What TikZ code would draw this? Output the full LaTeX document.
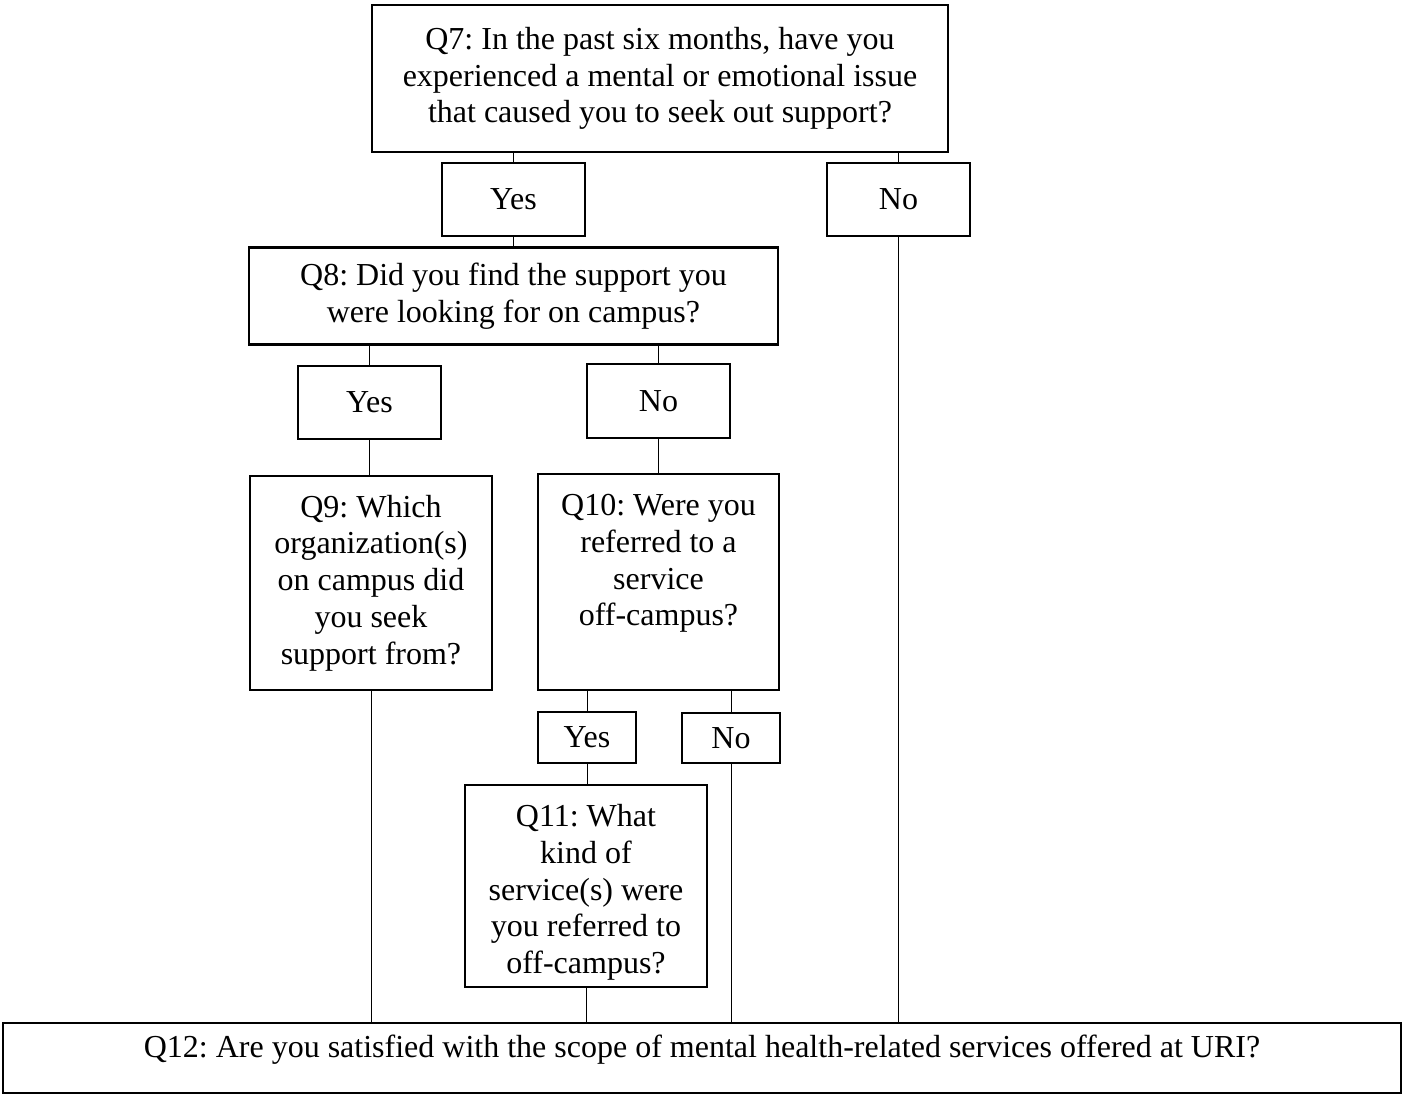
\documentclass[tikz,border=0pt]{standalone}
\usepackage{fontspec}
\setmainfont{Liberation Serif}
\usepackage{tikz}
\frenchspacing

\tikzset{
  qbox/.style={draw,line width=2.5pt,rectangle,inner sep=0pt,outer sep=0pt,align=center},
  ansbox/.style={qbox},
  qtext/.style={align=center,inner sep=0pt,anchor=north},
  link/.style={line width=1pt}
}

\begin{document}
\begin{tikzpicture}[x=1pt,y=-1pt,font=\fontsize{32}{36.8}\selectfont]
    \useasboundingbox (0,0) rectangle (1407,1095);

    \node at (660,78.5) [qbox,minimum width=576pt,minimum height=147pt] (q7)
      {Q7: In the past six months, have you\\ experienced a mental or emotional issue\\ that caused you to seek out support?};
    \node at (513.5,199.5) [ansbox,minimum width=143pt,minimum height=73pt] (yes1) {Yes};
    \node at (898.5,199.5) [ansbox,minimum width=143pt,minimum height=73pt] (no1) {No};

    \node at (513.5,296) [qbox,minimum width=529pt,minimum height=97pt] (q8)
      {Q8: Did you find the support you\\ were looking for on campus?};
    \node at (369.5,402.5) [ansbox,minimum width=143pt,minimum height=73pt] (yes2) {Yes};
    \node at (658.5,401) [ansbox,minimum width=143pt,minimum height=74pt] (no2) {No};

    \node at (371,583) [qbox,minimum width=242pt,minimum height=214pt] (q9)
      {Q9: Which\\ organization(s)\\ on campus did\\ you seek\\ support from?};
    \node at (658.5,582) [qbox,minimum width=241pt,minimum height=216pt] (q10) {};
    \node at (658.5,494) [qtext] (q10text)
      {Q10: Were you\\ referred to a\\ service\\ off-campus?};

    \node at (587,737.5) [ansbox,minimum width=98pt,minimum height=51pt] (yes3) {Yes};
    \node at (731,738) [ansbox,minimum width=98pt,minimum height=50pt] (no3) {No};

    \node at (586,886) [qbox,minimum width=242pt,minimum height=202pt] (q11) {};
    \node at (586,804) [qtext] (q11text)
      {Q11: What\\ kind of\\ service(s) were\\ you referred to\\ off-campus?};

    \node at (702,1058) [qbox,minimum width=1398pt,minimum height=70pt] (q12) {};
    \node at (702,1035) [qtext] (q12text)
      {Q12: Are you satisfied with the scope of mental health-related services offered at URI?};

    % connectors
    \draw [link] (yes1.north) -- (yes1.north |- q7.south);
    \draw [link] (no1.north) -- (no1.north |- q7.south);
    \draw [link] (yes1.south) -- (yes1.south |- q8.north);
    \draw [link] (no1.south) -- (no1.south |- q12.north);
    \draw [link] (yes2.north) -- (yes2.north |- q8.south);
    \draw [link] (no2.north) -- (no2.north |- q8.south);
    \draw [link] (yes2.south) -- (yes2.south |- q9.north);
    \draw [link] (no2.south) -- (no2.south |- q10.north);
    \draw [link] (q9.south) -- (q9.south |- q12.north);
    \draw [link] (yes3.north) -- (yes3.north |- q10.south);
    \draw [link] (no3.north) -- (no3.north |- q10.south);
    \draw [link] (yes3.south) -- (yes3.south |- q11.north);
    \draw [link] (q11.south) -- (q11.south |- q12.north);
    \draw [link] (no3.south) -- (no3.south |- q12.north);
\end{tikzpicture}
\end{document}
